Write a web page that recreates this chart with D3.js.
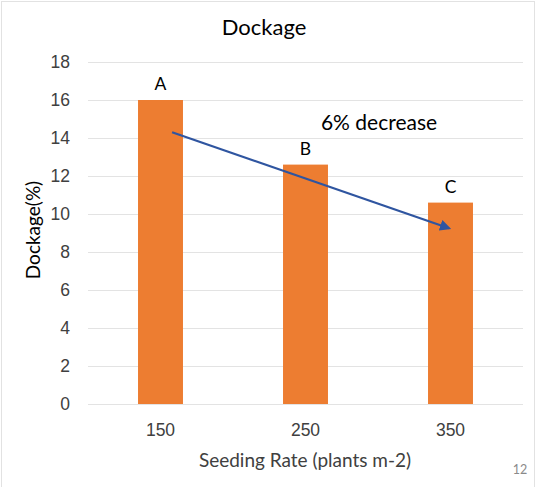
<!DOCTYPE html>
<html>
<head>
<meta charset="utf-8">
<script src="https://cdn.jsdelivr.net/npm/d3@7"></script>
<style>
  html, body { margin: 0; padding: 0; background: #fff; }
  svg { display: block; font-family: Lato, "Open Sans", sans-serif; }
</style>
</head>
<body>
<svg id="chart" width="536" height="487"></svg>
<script>
const categories = ["150", "250", "350"];
const values = [16.0, 12.6, 10.6];
const letters = ["A", "B", "C"];
const yTicks = [0, 2, 4, 6, 8, 10, 12, 14, 16, 18];
const arrowStart = { cat: "150", offset: 0.08, value: 14.3 };
const arrowEnd = { cat: "350", offset: -0.01, value: 9.25 };

const svg = d3.select("#chart");
const W = 536, H = 487;
const margin = { left: 88, right: 13, top: 62, bottom: 83 };

svg.append("rect")
  .attr("x", 1.5).attr("y", 1.5).attr("width", W - 3).attr("height", H + 5)
  .attr("fill", "#fff").attr("stroke", "#e2e2e2").attr("stroke-width", 1);

const x = d3.scaleBand().domain(categories)
  .range([margin.left, W - margin.right])
  .paddingInner(0.69).paddingOuter(0.345);
const y = d3.scaleLinear().domain([0, 18]).range([H - margin.bottom, margin.top]);

// gridlines
const yAxis = d3.axisLeft(y).tickValues(yTicks)
  .tickSize(-(W - margin.left - margin.right)).tickPadding(18).tickFormat(d3.format("d"));
const gy = svg.append("g").attr("transform", `translate(${margin.left},0)`).call(yAxis);
gy.select(".domain").remove();
gy.selectAll(".tick line").attr("stroke", "#e3e3e3").attr("stroke-width", 1);
gy.selectAll(".tick text").attr("fill", "#404040").attr("font-size", 17.5);

// bars
svg.append("g").selectAll("rect").data(values).join("rect")
  .attr("x", (d, i) => x(categories[i]))
  .attr("y", d => y(d))
  .attr("width", x.bandwidth())
  .attr("height", d => y(0) - y(d))
  .attr("fill", "#ED7D31");

// letters
svg.append("g").selectAll("text").data(values).join("text")
  .attr("x", (d, i) => x(categories[i]) + x.bandwidth() / 2)
  .attr("y", d => y(d) - 10)
  .attr("text-anchor", "middle")
  .attr("font-size", 17.5).attr("fill", "#000")
  .text((d, i) => letters[i]);

// x axis
const xAxis = d3.axisBottom(x).tickSize(0).tickPadding(20);
const gx = svg.append("g").attr("transform", `translate(0,${y(0)})`).call(xAxis);
gx.select(".domain").remove();
gx.selectAll(".tick text").attr("fill", "#404040").attr("font-size", 17.5);

// arrow
const defs = svg.append("defs");
defs.append("marker").attr("id", "arr")
  .attr("viewBox", "0 0 10 10").attr("refX", 8).attr("refY", 5)
  .attr("markerWidth", 5).attr("markerHeight", 5).attr("orient", "auto")
  .append("path").attr("d", "M0,0 L10,5 L0,10 z").attr("fill", "#2F55A0");
const ax = p => x(p.cat) + x.bandwidth() / 2 + p.offset * x.step();
svg.append("line")
  .attr("x1", ax(arrowStart)).attr("y1", y(arrowStart.value))
  .attr("x2", ax(arrowEnd)).attr("y2", y(arrowEnd.value))
  .attr("stroke", "#2F55A0").attr("stroke-width", 2.25)
  .attr("marker-end", "url(#arr)");

svg.append("text").attr("x", 379).attr("y", 130).attr("text-anchor", "middle")
  .attr("font-size", 21).attr("fill", "#000").text("6% decrease");

// titles
svg.append("text").attr("x", 264).attr("y", 35).attr("text-anchor", "middle")
  .attr("font-size", 22).attr("fill", "#000").text("Dockage");
svg.append("text").attr("transform", `translate(40,${(y(0) + y(18)) / 2 - 3}) rotate(-90)`)
  .attr("text-anchor", "middle").attr("font-size", 19).attr("fill", "#000")
  .text("Dockage(%)");
svg.append("text").attr("x", 305).attr("y", 467)
  .attr("text-anchor", "middle").attr("font-size", 19).attr("fill", "#404040")
  .text("Seeding Rate (plants m-2)");
svg.append("text").attr("x", 520).attr("y", 474).attr("text-anchor", "middle")
  .attr("font-size", 12.5).attr("fill", "#8a8a8a").text("12");
</script>
</body>
</html>
